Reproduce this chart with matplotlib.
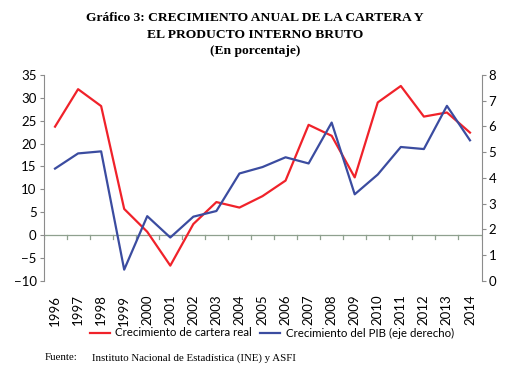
import matplotlib
matplotlib.use("Agg")
import matplotlib.pyplot as plt
from matplotlib.lines import Line2D

years = [str(y) for y in range(1996, 2015)]
cartera = [23.7, 31.9, 28.2, 5.7, 0.7, -6.7, 2.4, 7.2, 6.0, 8.5, 11.9,
           24.1, 21.7, 12.6, 29.0, 32.6, 25.9, 26.8, 22.4]
pib = [4.36, 4.95, 5.03, 0.43, 2.51, 1.68, 2.49, 2.71, 4.17, 4.42, 4.80,
       4.56, 6.15, 3.36, 4.13, 5.20, 5.12, 6.80, 5.46]
labels = ["Crecimiento de cartera real", "Crecimiento del PIB (eje derecho)"]

red = "#f0222a"
blue = "#3b4ca0"
axcol = "#8c8c8c"
zerocol = "#8fa08f"
tickfont = "Lato"

fig = plt.figure(figsize=(5.29, 3.69), dpi=100)
ax = fig.add_axes([43.5/529, 1-280.7/369, (481.5-43.5)/529, (280.7-75)/369])
ax2 = ax.twinx()

x = list(range(len(years)))
ax.plot(x, cartera, color=red, lw=1.6, zorder=3)
ax2.plot(x, pib, color=blue, lw=1.6, zorder=3)

ax.set_xlim(-0.5, len(years) - 0.5)
ax.set_ylim(-10, 35)
ax.set_yticks(range(-10, 36, 5))
ax2.set_ylim(0, 8)
ax2.set_yticks(range(0, 9))

# zero line with ticks between categories
ax.axhline(0, color=zerocol, lw=0.9, zorder=1)
for i in range(len(years) + 1):
    ax.plot([i - 0.5, i - 0.5], [0, -0.8], color=zerocol, lw=0.9, zorder=1)

for a in (ax, ax2):
    for s in ("top", "bottom"):
        a.spines[s].set_visible(False)
ax.spines["right"].set_visible(False)
ax2.spines["left"].set_visible(False)
ax.spines["left"].set_color(axcol)
ax2.spines["right"].set_color(axcol)
ax.tick_params(axis="y", color=axcol, length=3, labelsize=9.5, pad=2)
ax2.tick_params(axis="y", color=axcol, length=3, labelsize=9.5, pad=2)
for lab in ax.get_yticklabels() + ax2.get_yticklabels():
    lab.set_fontfamily(tickfont)

ax.set_xticks(x)
ax.set_xticklabels(years, rotation=90, fontsize=9.5, fontfamily=tickfont)
ax.tick_params(axis="x", length=0, pad=10)

# Title
for yy, txt in [(18, "Gráfico 3: CRECIMIENTO ANUAL DE LA CARTERA Y"),
                (35, "EL PRODUCTO INTERNO BRUTO"),
                (51, "(En porcentaje)")]:
    fig.text(255/529, 1-yy/369, txt, ha="center", va="center", fontsize=9.7,
             fontweight="bold", fontfamily="Liberation Serif")

# Legend (manual placement)
ly = 1 - 333/369
fig.add_artist(Line2D([90/529, 110/529], [ly, ly], color=red, lw=1.6))
fig.text(115/529, ly, labels[0], ha="left", va="center", fontsize=8.3,
         fontfamily=tickfont)
fig.add_artist(Line2D([260/529, 280/529], [ly, ly], color=blue, lw=1.6))
fig.text(286/529, ly, labels[1], ha="left", va="center", fontsize=8.3,
         fontfamily=tickfont)

fig.text(45/529, 1-358/369, "Fuente:", ha="left", va="center", fontsize=7.8,
         fontfamily="Liberation Serif")
fig.text(92/529, 1-358/369, "Instituto Nacional de Estadística (INE) y ASFI",
         ha="left", va="center", fontsize=7.8, fontfamily="Liberation Serif")

fig.savefig("out.png", dpi=100)
